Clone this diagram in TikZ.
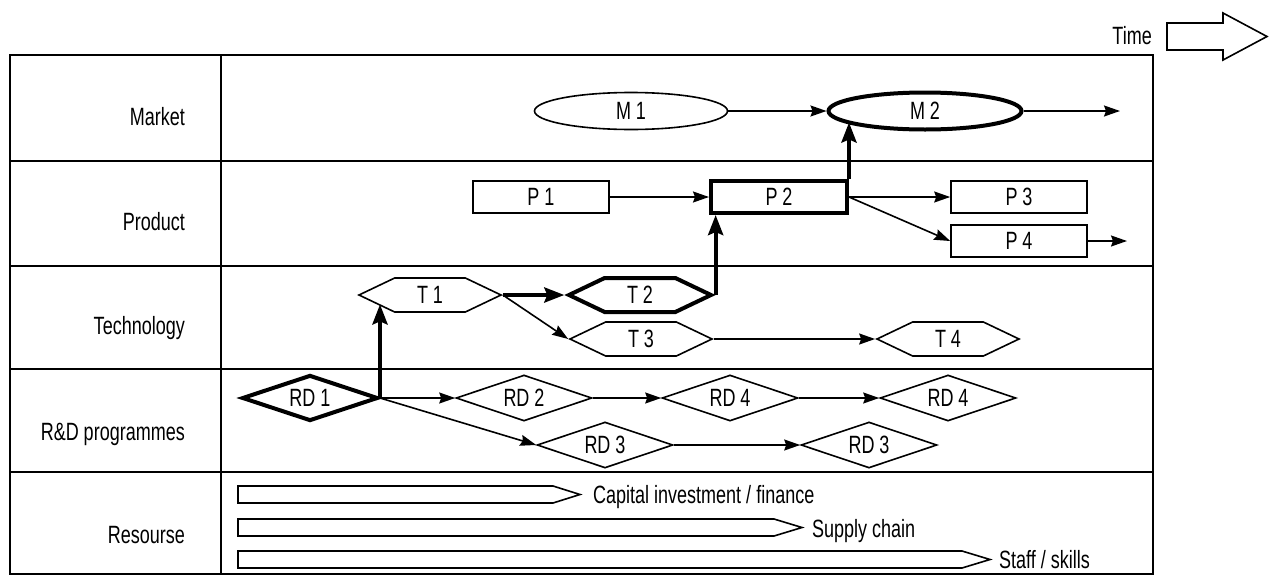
\documentclass[tikz,border=0pt]{standalone}
\usepackage{fontspec}
\setmainfont{Liberation Sans}[FakeStretch=0.72]
\usetikzlibrary{shapes.geometric,shapes.symbols,arrows.meta}
\begin{document}
\begin{tikzpicture}[x=1pt,y=-1pt,
  every node/.style={font=\fontsize{25}{29}\selectfont},
  gridln/.style={line width=2pt},
  arr/.style={line width=1.6pt,-{Stealth[length=16pt,width=11pt,inset=2pt]}},
  tarr/.style={line width=4pt,-{Stealth[length=20pt,width=15pt,inset=3pt]}},
  mkt/.style={draw,ellipse,minimum width=193pt,minimum height=37pt,inner sep=0pt,line width=1.6pt},
  prod/.style={draw,rectangle,minimum width=136pt,minimum height=32pt,inner sep=0pt,line width=1.6pt},
  tech/.style={draw,signal,signal to=east and west,signal pointer angle=51,minimum width=142pt,minimum height=34pt,inner sep=0pt,line width=1.6pt},
  rdd/.style={draw,diamond,aspect=3,minimum width=136pt,minimum height=46pt,inner sep=0pt,line width=1.6pt},
  heavy/.style={line width=4pt},
  rowlab/.style={anchor=base east,inner sep=0pt},
  barlab/.style={anchor=base west,inner sep=0pt},
  resbar/.style={draw,line width=1.6pt}]
\useasboundingbox (0,0) rectangle (1269,576);
% table
\draw[gridln] (10,55) rectangle (1153,574);
\draw[gridln] (221,55) -- (221,574);
\foreach \yy in {161,266,369,472} \draw[gridln] (10,\yy) -- (1153,\yy);
% time arrow
\draw[resbar] (1167,23) -- (1223,23) -- (1223,13) -- (1267,36.5) -- (1223,60) -- (1223,50) -- (1167,50) -- cycle;
\node[anchor=base east,inner sep=0pt] (time) at (1152,44) {Time};
% row labels
\node[rowlab] (Lm) at (185,125) {Market};
\node[rowlab] (Lp) at (185,230) {Product};
\node[rowlab] (Lt) at (185,334) {Technology};
\node[rowlab] (Lr) at (185,440) {R\&D programmes};
\node[rowlab] (Ls) at (185,543) {Resourse};
% market
\node[mkt] (M1) at (631,111) {M 1};
\node[mkt,heavy] (M2) at (925,111) {M 2};
\coordinate (Mout) at (1120,111);
% product
\node[prod] (P1) at (541,197) {P 1};
\node[prod,heavy] (P2) at (779,197) {P 2};
\node[prod] (P3) at (1019,197) {P 3};
\node[prod] (P4) at (1019,241) {P 4};
\coordinate (Pout) at (1127,241);
% technology
\node[tech] (T1) at (430,295) {T 1};
\node[tech,heavy] (T2) at (640,295) {T 2};
\node[tech] (T3) at (641,339) {T 3};
\node[tech] (T4) at (948,339) {T 4};
% R&D
\node[rdd,heavy] (RD1) at (310,398) {RD 1};
\node[rdd] (RD2) at (524,398) {RD 2};
\node[rdd] (RD4a) at (730,398) {RD 4};
\node[rdd] (RD4b) at (948,398) {RD 4};
\node[rdd] (RD3a) at (605,445) {RD 3};
\node[rdd] (RD3b) at (869,445) {RD 3};
% resources
\draw[resbar] (238,486) -- (553,486) -- (580,494.5) -- (553,503) -- (238,503) -- cycle;
\draw[resbar] (238,519) -- (774,519) -- (802,527.5) -- (774,536) -- (238,536) -- cycle;
\draw[resbar] (238,551) -- (962,551) -- (990,559.5) -- (962,568) -- (238,568) -- cycle;
\node[barlab] (Lc) at (593,503) {Capital investment / finance};
\node[barlab] (Lsc) at (812,537) {Supply chain};
\node[barlab] (Lss) at (999,568) {Staff / skills};
% connectors
\draw[arr] (M1.east) -- (M2.west);
\draw[arr] (M2.east) -- (Mout);
\draw[arr] (P1.east) -- (P2.west);
\draw[arr] (P2.east) -- (P3.west);
\draw[arr] (P2.east) -- (P4.west);
\draw[arr] (P4.east) -- (Pout);
\draw[tarr] (T1.east) -- (T2.west);
\draw[arr] (T1.east) -- (T3.west);
\draw[arr] (T3.east) -- (T4.west);
\draw[arr] (RD1.east) -- (RD2.west);
\draw[arr] (RD1.east) -- (RD3a.west);
\draw[arr] (RD2.east) -- (RD4a.west);
\draw[arr] (RD4a.east) -- (RD4b.west);
\draw[arr] (RD3a.east) -- (RD3b.west);
\draw[tarr] (RD1.east) -- (RD1.east |- T1.190);
\draw[tarr] (T2.east) -- (T2.east |- P2.south);
\draw[tarr] (P2.north east) -- (P2.north east |- M2.188);
\end{tikzpicture}
\end{document}
